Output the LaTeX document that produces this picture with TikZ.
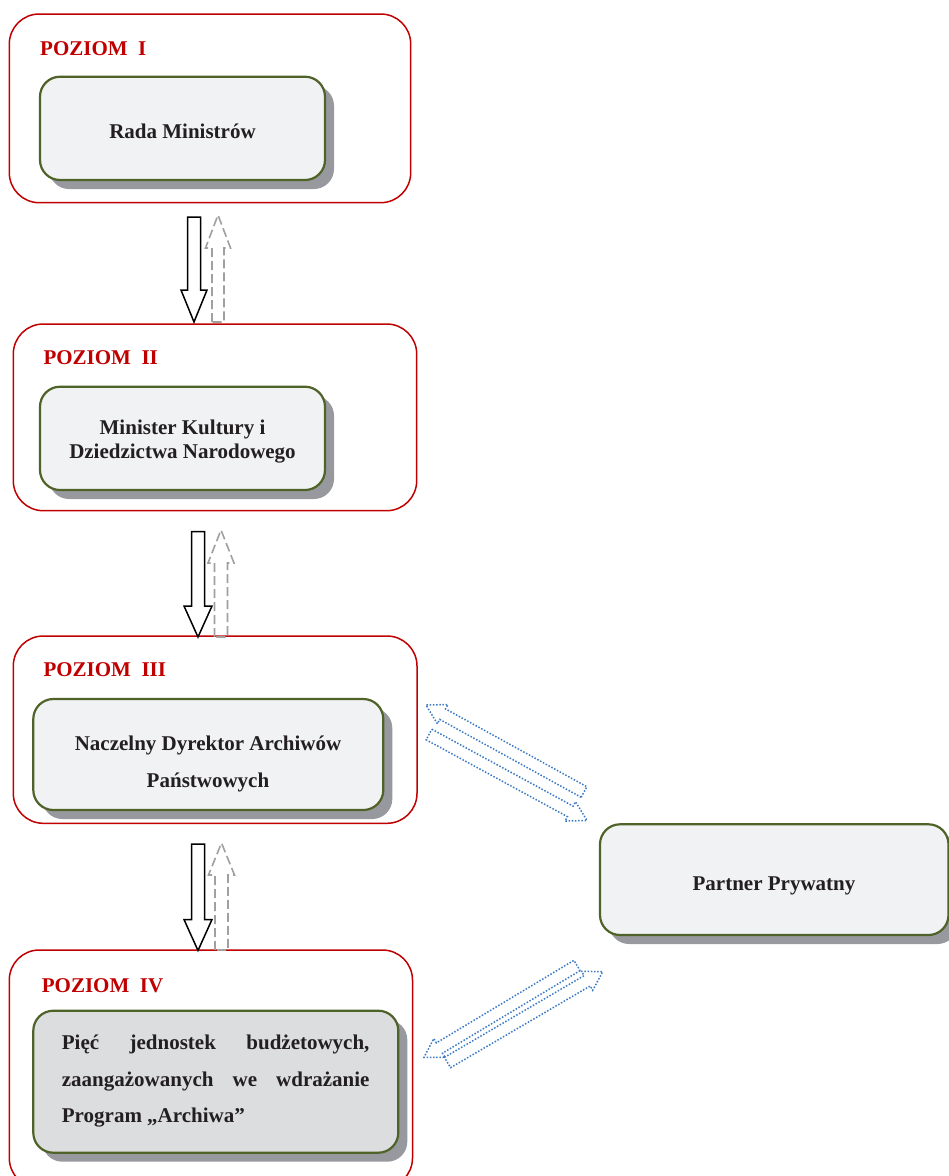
\documentclass[tikz,border=0pt]{standalone}
\usepackage{fontspec}
\setmainfont{Liberation Serif}
\usetikzlibrary{calc,shadows}
\definecolor{redc}{RGB}{192,0,0}
\definecolor{greenc}{RGB}{79,98,40}
\definecolor{fillc}{RGB}{241,242,244}
\definecolor{filld}{RGB}{220,221,223}
\definecolor{shadowc}{RGB}{152,153,158}
\definecolor{textc}{RGB}{35,31,32}
\definecolor{bluec}{RGB}{60,122,196}
\definecolor{grayd}{RGB}{160,160,160}
\newcommand\blkarrow[6]{%
  \coordinate (hb) at ($(#2)!#5!(#1)$);
  \draw[#6] ($(#1)!#3!90:(#2)$) -- ($(hb)!#3!-90:(#1)$) -- ($(hb)!#4!-90:(#1)$) -- (#2)
    -- ($(hb)!#4!90:(#1)$) -- ($(hb)!#3!90:(#1)$) -- ($(#1)!#3!-90:(#2)$) -- cycle;
}
\tikzset{
  outerbox/.style={draw=redc, line width=1.5pt, rounded corners=30pt, inner sep=0pt},
  innerbox/.style={draw=greenc, fill=fillc, line width=2.2pt, rounded corners=20pt, inner sep=0pt,
    drop shadow={shadow xshift=9pt, shadow yshift=-9pt, fill=shadowc, opacity=1}},
  lvl/.style={text=redc, font=\fontsize{21}{25}\selectfont\bfseries, anchor=base west, inner sep=0pt},
  txt/.style={text=textc, font=\fontsize{21}{25}\selectfont\bfseries, anchor=base, inner sep=0pt},
  txtl/.style={txt, anchor=base west},
  downarr/.style={draw=black, line width=1.5pt, line join=miter},
  uparr/.style={draw=grayd, line width=1.6pt, dash pattern=on 9pt off 4pt},
  bluearr/.style={draw=bluec, line width=1.5pt, dash pattern=on 1.5pt off 1.7pt},
}
\begin{document}
\begin{tikzpicture}[x=1pt,y=-1pt]
\useasboundingbox[fill=white] (0,0) rectangle (949,1176);
% outer level boxes
\node[outerbox, minimum width=401.4pt, minimum height=188.7pt] (L1) at (210,108.35) {};
\node[outerbox, minimum width=403.4pt, minimum height=186.7pt] (L2) at (215,417.35) {};
\node[outerbox, minimum width=403.7pt, minimum height=187.3pt] (L3) at (215.15,729.65) {};
\node[outerbox, minimum width=403.2pt, minimum height=238pt] (L4) at (210.9,1069) {};
% level labels
\node[lvl] (t1) at (40,55) {POZIOM~~I};
\node[lvl] (t2) at (43.3,364) {POZIOM~~II};
\node[lvl] (t3) at (43.3,676) {POZIOM~~III};
\node[lvl] (t4) at (41.7,992.7) {POZIOM~~IV};
% inner boxes
\node[innerbox, minimum width=285pt, minimum height=103.3pt] (B1) at (182.5,128.35) {};
\node[innerbox, minimum width=285pt, minimum height=103.3pt] (B2) at (182.5,438.35) {};
\node[innerbox, minimum width=350pt, minimum height=111pt] (B3) at (208.3,754.5) {};
\node[innerbox, fill=filld, minimum width=365pt, minimum height=142pt] (B4) at (215.8,1081.7) {};
\node[innerbox, minimum width=348.5pt, minimum height=110.7pt] (P) at (774.25,879.65) {};
% texts
\node[txt] (b1) at (182.5,138.3) {Rada Ministrów};
\node[txt] (b2a) at (182.5,434) {Minister Kultury i};
\node[txt] (b2b) at (182.5,458.3) {Dziedzictwa Narodowego};
\node[txt] (b3a) at (208,750.7) {Naczelny Dyrektor Archiwów};
\node[txt] (b3b) at (208,787.3) {Państwowych};
\node[txtl] (b4a) at (61.7,1049.3) {\hbox to 307.6pt{Pięć\hfill jednostek\hfill budżetowych,}};
\node[txtl] (b4b) at (61.7,1086.7) {\hbox to 307.6pt{zaangażowanych\hfill we\hfill wdrażanie}};
\node[txtl] (b4c) at (61.7,1122.7) {Program „Archiwa”};
\node[txt] (pp) at (774,890) {Partner Prywatny};
% vertical arrow end points
\coordinate (d1s) at (194,217);   \coordinate (d1e) at (194,322);
\coordinate (u1s) at (218,322);   \coordinate (u1e) at (218,215);
\coordinate (d2s) at (198,531.5); \coordinate (d2e) at (198,637);
\coordinate (u2s) at (221,637);   \coordinate (u2e) at (221,530);
\coordinate (d3s) at (198,844);   \coordinate (d3e) at (198,950.5);
\coordinate (u3s) at (221.5,950); \coordinate (u3e) at (221.5,843);
\blkarrow{d1s}{d1e}{6.5pt}{13pt}{32pt}{downarr}
\blkarrow{u1s}{u1e}{6pt}{12.5pt}{33pt}{uparr}
\blkarrow{d2s}{d2e}{6.5pt}{14pt}{31pt}{downarr}
\blkarrow{u2s}{u2e}{6.5pt}{13pt}{33pt}{uparr}
\blkarrow{d3s}{d3e}{6.5pt}{14pt}{31pt}{downarr}
\blkarrow{u3s}{u3e}{6.5pt}{13pt}{32pt}{uparr}
% diagonal arrows
\coordinate (as) at (584,792);     \coordinate (ae) at (426,705);
\coordinate (bs) at (429,734.5);   \coordinate (be) at (587,820.5);
\coordinate (cs) at (577,965.5);   \coordinate (ce) at (424,1057.3);
\coordinate (ds) at (447.5,1062.5);\coordinate (de) at (602.7,971.7);
\blkarrow{as}{ae}{6pt}{11pt}{19pt}{bluearr}
\blkarrow{bs}{be}{6pt}{11pt}{19pt}{bluearr}
\blkarrow{cs}{ce}{6pt}{11pt}{18pt}{bluearr}
\blkarrow{ds}{de}{6pt}{11pt}{18pt}{bluearr}
\end{tikzpicture}
\end{document}
